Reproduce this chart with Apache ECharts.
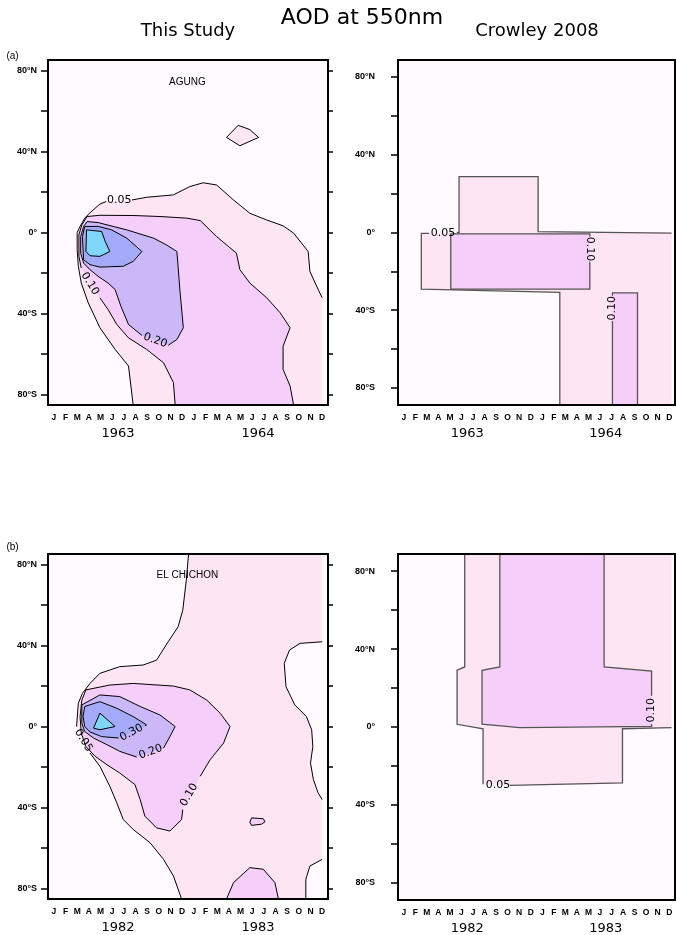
<!DOCTYPE html>
<html><head><meta charset="utf-8">
<script src="https://cdn.jsdelivr.net/npm/echarts@6/dist/echarts.min.js"></script>
<style>html,body{margin:0;padding:0;background:#fff}#c{width:676px;height:935px}</style>
</head><body><div id="c"></div>
<script>
// ---- categories / ticks ----
const months = ['J','F','M','A','M','J','J','A','S','O','N','D','J','F','M','A','M','J','J','A','S','O','N','D'];
const yearsAgung = ['1963','1964'];
const yearsChichon = ['1982','1983'];
const latLabelValues = [-80,-40,0,40,80];
const latTickValues = [-80,-60,-40,-20,0,20,40,60,80];
const levels = [0.05,0.10,0.20,0.30,0.40];

// ---- contour data: [month index (0..24), latitude]; null = gap in drawn line ----
// Agung, this study
const agungStudy005 = [[7.3,-85.3],[6.9,-66],[5.75,-57.8],[4.45,-47.1],[3.45,-34.8],[2.85,-25],[2.6,-16.7],[2.5,-8.5],[2.5,0],[2.75,3],[3.15,7.1],[3.55,9.5],[4.45,14.1],[5.0,15.3],null,[7.2,16.1],[8.45,17.4],[10.75,18.6],[12.15,22.7],[13.3,24.6],[14.45,23.5],[15.9,16.1],[17.3,9.5],[18.75,6.2],[20.15,3.3],[21.05,-0.3],[22.3,-9.4],[22.45,-19.2],[22.9,-25],[23.5,-32.3],null,[23.5,-85.3]];
const agungStudy005Island = [[15.3,47],[16.3,53],[17.3,50.9],[18.05,47],[16.45,42.9],[15.3,47]];
const agungStudy010 = [[10.9,-85.3],[10.75,-74.2],[9.9,-64.4],[8.45,-57.8],[6.9,-52.1],[5.9,-45.5],[5.15,-38.1],[4.45,-32.3],null,[2.85,-17.6],[2.65,-11.8],[2.65,-1.1],[2.9,3.8],[3.35,7.9],[4.45,8.5],[7.3,8.4],[9.6,7.9],[11.9,7.1],[13.05,5.9],[14.45,-2],[16.15,-10.2],[16.45,-18.4],[17.3,-25],[18.75,-32.3],[19.9,-39.7],[20.75,-47.1],[20.15,-56.2],[20.15,-67.7],[20.75,-75.9],[21.05,-85.3]];
const agungStudy020 = [[8.05,-50.9],[6.9,-45.5],[6.25,-36.5],[5.75,-28.2],[5.15,-25],[4.3,-21.7],[3.6,-18.4],[3.05,-15.1],[2.8,-10.2],[2.8,-2],[3.05,3],[3.35,5.4],[4.3,4.9],[6.75,1.3],[9.05,-2.8],[10.15,-6.1],[11.05,-9.4],[11.15,-16.7],[11.3,-28.2],[11.6,-47.1],[11.05,-52.9],[10.3,-55.8]];
const agungStudy030 = [[3.15,3],[4.3,3],[5.45,1.3],[6.75,-2.8],[8.05,-9.4],[7.3,-14.3],[6.45,-16.7],[4.45,-17.1],[3.6,-15.9],[3.05,-13.5],[2.95,-2],[3.15,3]];
const agungStudy040 = [[3.3,1.3],[4.6,0.5],[4.9,-4.4],[5.3,-9.4],[4.45,-11.8],[3.6,-11.5],[3.25,-9.4],[3.3,1.3]];
const agungStudyLabels = [['0.05',6.1,15.8,0],['0.10',3.6,-25.3,-58],['0.20',9.2,-53.4,-20]];

// Agung, Crowley 2008
const agungCrowley005 = [[23.7,-0.3],[12.14,0.5],[12.14,28.7],[5.29,28.7],[5.29,0],[5.1,0],null,[2.7,-0.4],[2.02,-0.5],[2.02,-29.1],[14.02,-30.8],[14.02,-88.75],null,[23.7,-88.75]];
const agungCrowley010a = [[16.62,-15],[16.62,-29.1],[4.57,-29.1],[4.57,-0.7],[16.62,-0.7],[16.62,-2]];
const agungCrowley010b = [[20.75,-88.75],[20.75,-31.1],[18.58,-31.1],[18.58,-32.5],null,[18.58,-45.5],[18.58,-88.75]];
const agungCrowleyLabels = [['0.05',3.9,-0.1,0],['0.10',16.62,-8.5,-90],['0.10',18.58,-39,90]];

// El Chichon, this study
const chichonStudy005 = [[12.05,85.3],[11.85,72.2],[11.55,57.5],[11.15,49.3],[10.3,41.9],[9.3,32.8],[8.15,30.4],[6.15,29.6],[4.45,26.3],[3.6,21.3],[2.95,16.4],[2.6,11.5],[2.45,0],null,[3.6,-13.1],[4.45,-19.7],[5.3,-29.6],[5.9,-37.8],[6.45,-46],[7.3,-50.9],[8.75,-57.5],[9.9,-65.7],[10.75,-73.9],[11.45,-85.3],null,[22.1,-85.3],[22.1,-75.5],[22.45,-69],[23.5,-65.7],null,[23.5,-36.1],[23.15,-32.8],[22.75,-26.3],[22.5,-18.1],[22.7,-9.9],[22.6,-1.6],[22.15,4.9],[21.15,10.7],[20.4,19.7],[20.25,31.2],[20.7,37.8],[21.6,41.1],[23.5,41.9],null,[23.5,85.3]];
const chichonStudy010 = [[11.55,-41.1],[11.45,-46],[10.45,-51.7],[9.3,-50.1],[8.3,-44.3],[7.9,-36.1],[7.45,-28.7],[6.15,-23],[5.05,-18.9],[4.05,-14.8],[3.25,-9.9],[2.85,-3.3],[2.75,4.9],[2.9,13.1],[3.25,18.1],[5.3,20.5],[7.3,21.3],[10.75,20],[12.15,18.1],[13.6,13.1],[14.75,6.6],[15.6,0],[15.05,-8.2],[13.9,-16.4],[13.05,-24.6]];
const chichonStudy010Island = [[17.45,-45.2],[18.45,-45.6],[18.6,-47.1],[18.3,-48.3],[17.45,-48.9],[17.3,-47.3],[17.45,-45.2]];
const chichonStudy010South = [[15.3,-85.3],[15.9,-77.2],[17.3,-69.8],[18.45,-70.6],[19.45,-77.2],[19.75,-85.3]];
const chichonStudy020 = [[7.6,-15.1],[6.15,-12.3],[5.05,-9],[3.9,-5.7],[3.15,-2.5],[2.9,1.6],[2.9,8.2],[2.9,10.7],[4.45,15.6],[6.15,14.8],[7.9,9.9],[9.6,5.7],[10.9,0],[10.3,-6.6],[9.9,-10.7]];
const chichonStudy030 = [[8.3,0.3],[8.45,0.8],[7.3,4.9],[5.9,9],[4.45,12.3],[3.15,9.9],[3.0,5],[3.15,0],[3.6,-2.7],[4.6,-5],[6.05,-5.7]];
const chichonStudy040 = [[4.45,6.6],[5.75,0],[4.45,-1.6],[3.9,-0.8],[4.45,6.6]];
const chichonStudyLabels = [['0.05',3.03,-6.9,-58],['0.30',7.15,-3.1,28],['0.20',8.8,-12.6,20],['0.10',12.1,-33.8,60]];

// El Chichon, Crowley 2008
const chichonCrowley005 = [[5.78,88.75],[5.78,30.8],[5.12,29.1],[5.12,1.4],[7.37,-0.9],[7.37,-29.4],null,[9.7,-29.9],[19.45,-28.7],[19.45,-0.9],[23.7,-0.3],null,[23.7,88.75]];
const chichonCrowley010 = [[17.86,88.75],[17.86,30.8],[21.97,28.7],[21.97,16],null,[21.97,1.5],[21.97,0.3],[10.55,-0.3],[7.28,1.4],[7.28,29.1],[8.82,30.8],[8.82,88.75]];
const chichonCrowleyLabels = [['0.05',8.67,-29.9,0],['0.10',21.97,8.6,90]];

// ---- styles ----
const levelColors = ['#fde5f3','#f6cefa','#cbb8f8','#a5aaf8','#80d5f8'];
const bgColor = '#fffafd';

const panels = [
  {box:[48,60,280,345], lat:85.3, years:yearsAgung, labelMargin:11, lineColor:'#000', lineWidth:1,
   contours:[{lv:0,pts:agungStudy005},{lv:0,pts:agungStudy005Island},{lv:1,pts:agungStudy010},{lv:2,pts:agungStudy020},{lv:3,pts:agungStudy030},{lv:4,pts:agungStudy040}],
   labels:agungStudyLabels, name:['AGUNG',11.95,74.4]},
  {box:[398,60,277,345], lat:88.75, years:yearsAgung, labelMargin:23, lineColor:'#555', lineWidth:1.3,
   contours:[{lv:0,pts:agungCrowley005},{lv:1,pts:agungCrowley010a},{lv:1,pts:agungCrowley010b}],
   labels:agungCrowleyLabels, name:null},
  {box:[48,554,280,345], lat:85.3, years:yearsChichon, labelMargin:11, lineColor:'#000', lineWidth:1,
   contours:[{lv:0,pts:chichonStudy005},{lv:1,pts:chichonStudy010},{lv:1,pts:chichonStudy010Island},{lv:1,pts:chichonStudy010South},{lv:2,pts:chichonStudy020},{lv:3,pts:chichonStudy030},{lv:4,pts:chichonStudy040}],
   labels:chichonStudyLabels, name:['EL CHICHON',11.95,74.7]},
  {box:[398,554,277,346], lat:88.75, years:yearsChichon, labelMargin:23, lineColor:'#555', lineWidth:1.3,
   contours:[{lv:0,pts:chichonCrowley005},{lv:1,pts:chichonCrowley010}],
   labels:chichonCrowleyLabels, name:null}
];

function fmtLat(v){ if (v===0) return '0\u00b0'; return Math.abs(v)+'\u00b0'+(v>0?'N':'S'); }

const grids=[], xAxes=[], yAxes=[], series=[];
const axisBlack = {color:'#000', width:2};
panels.forEach((p,i)=>{
  grids.push({left:p.box[0], top:p.box[1], width:p.box[2], height:p.box[3], show:true, backgroundColor:bgColor, borderWidth:0});
  const xv = xAxes.length;
  xAxes.push({type:'value', gridIndex:i, min:0, max:24, show:false, axisLine:{onZero:false}});
  xAxes.push({type:'category', gridIndex:i, position:'bottom', data:months, boundaryGap:true, z:10,
    axisLine:{onZero:false, lineStyle:axisBlack}, axisTick:{interval:0, length:4, lineStyle:{color:'#000', width:1.5}},
    axisLabel:{interval:0, fontSize:8.5, fontWeight:'bold', color:'#000', margin:8, fontFamily:'Liberation Sans'}, splitLine:{show:false}});
  xAxes.push({type:'category', gridIndex:i, position:'bottom', data:p.years, boundaryGap:true, z:10,
    axisLine:{show:false, onZero:false}, axisTick:{interval:0, length:8, lineStyle:{color:'#000', width:2}},
    axisLabel:{interval:0, fontSize:13, color:'#000', margin:22, fontFamily:'DejaVu Sans'}, splitLine:{show:false}});
  xAxes.push({type:'category', gridIndex:i, position:'top', data:months, boundaryGap:true, z:10,
    axisLine:{onZero:false, lineStyle:axisBlack}, axisTick:{interval:0, length:3, lineStyle:{color:'#000', width:1.5}},
    axisLabel:{show:false}, splitLine:{show:false}});
  xAxes.push({type:'category', gridIndex:i, position:'top', data:p.years, boundaryGap:true, z:10,
    axisLine:{show:false, onZero:false}, axisTick:{interval:0, length:7, lineStyle:{color:'#000', width:2}},
    axisLabel:{show:false}, splitLine:{show:false}});
  const yv = yAxes.length;
  yAxes.push({type:'value', gridIndex:i, min:-p.lat, max:p.lat, position:'left', z:10,
    axisLine:{show:true, onZero:false, lineStyle:axisBlack},
    axisTick:{show:true, length:7, customValues:latTickValues, lineStyle:{color:'#000', width:1.5}},
    axisLabel:{customValues:latLabelValues, formatter:fmtLat, fontSize:9, fontWeight:'bold', color:'#000', margin:p.labelMargin, fontFamily:'Liberation Sans'},
    splitLine:{show:false}});
  yAxes.push({type:'value', gridIndex:i, min:-p.lat, max:p.lat, position:'right', z:10,
    axisLine:{show:true, onZero:false, lineStyle:axisBlack},
    axisTick:{show:true, length:5, customValues:latTickValues, lineStyle:{color:'#000', width:1.5}},
    axisLabel:{show:false}, splitLine:{show:false}});

  const base = {type:'custom', coordinateSystem:'cartesian2d', xAxisIndex:xv, yAxisIndex:yv, silent:true, animation:false, clip:true};
  // fills
  series.push(Object.assign({}, base, {z:2, data:p.contours.map(()=>[12,0]),
    renderItem:(params, api)=>{
      const c = p.contours[params.dataIndex];
      const pts = c.pts.filter(q=>q).map(q=>api.coord(q));
      return {type:'polygon', shape:{points:pts}, style:{fill:levelColors[c.lv], stroke:null, lineWidth:0}};
    }}));
  // contour lines
  series.push(Object.assign({}, base, {z:3, data:p.contours.map(()=>[12,0]),
    renderItem:(params, api)=>{
      const c = p.contours[params.dataIndex];
      const segs=[]; let seg=[];
      c.pts.forEach(q=>{ if(!q){ if(seg.length>1) segs.push(seg); seg=[]; } else seg.push(api.coord(q)); });
      if(seg.length>1) segs.push(seg);
      return {type:'group', children:segs.map(s=>({type:'polyline', shape:{points:s}, style:{stroke:p.lineColor, lineWidth:p.lineWidth, fill:null}}))};
    }}));
  // labels
  const labs = p.labels.slice();
  series.push(Object.assign({}, base, {z:4, data:labs.map(l=>[l[1],l[2]]),
    renderItem:(params, api)=>{
      const l = labs[params.dataIndex];
      const pt = api.coord([l[1], l[2]]);
      return {type:'text', x:pt[0], y:pt[1], rotation:l[3]*Math.PI/180,
        style:{text:l[0], fontSize:11, fontFamily:'DejaVu Sans', fill:'#000', align:'center', verticalAlign:'middle', textAlign:'center', textVerticalAlign:'middle'}};
    }}));
  if (p.name){
    const nm = p.name;
    series.push(Object.assign({}, base, {z:4, data:[[nm[1],nm[2]]],
      renderItem:(params, api)=>{
        const pt = api.coord([nm[1], nm[2]]);
        return {type:'text', x:pt[0], y:pt[1],
          style:{text:nm[0], fontSize:10, fontFamily:'Liberation Sans', fill:'#000', align:'center', verticalAlign:'middle', textAlign:'center', textVerticalAlign:'middle'}};
      }}));
  }
});

const chart = echarts.init(document.getElementById('c'), null, {renderer:'canvas'});
chart.setOption({
  animation:false,
  backgroundColor:'#fff',
  grid:grids, xAxis:xAxes, yAxis:yAxes, series:series,
  graphic:[
    {type:'text', x:362, y:18, style:{text:'AOD at 550nm', fontSize:22, fontFamily:'DejaVu Sans', fill:'#000', align:'center', verticalAlign:'middle'}},
    {type:'text', x:188, y:31, style:{text:'This Study', fontSize:18, fontFamily:'DejaVu Sans', fill:'#000', align:'center', verticalAlign:'middle'}},
    {type:'text', x:537, y:31, style:{text:'Crowley 2008', fontSize:18, fontFamily:'DejaVu Sans', fill:'#000', align:'center', verticalAlign:'middle'}},
    {type:'text', x:12.5, y:56, style:{text:'(a)', fontSize:10, fontFamily:'Liberation Sans', fill:'#000', align:'center', verticalAlign:'middle'}},
    {type:'text', x:12.5, y:547, style:{text:'(b)', fontSize:10, fontFamily:'Liberation Sans', fill:'#000', align:'center', verticalAlign:'middle'}}
  ]
});
</script></body></html>
